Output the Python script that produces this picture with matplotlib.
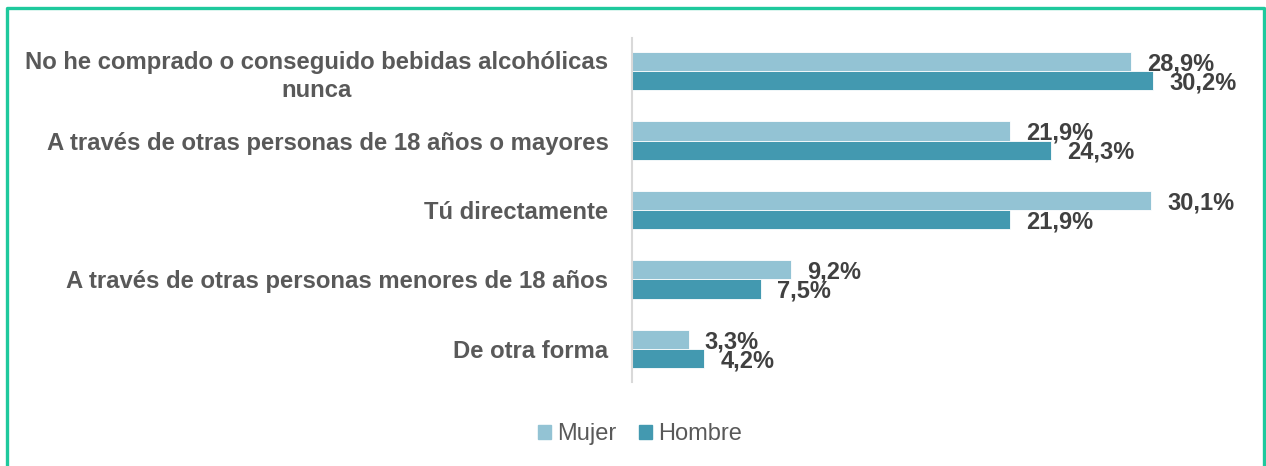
#!/usr/bin/env python3

"""."""
import matplotlib
matplotlib.use('Agg')
from matplotlib import pyplot as plt
from matplotlib.patches import Patch
import numpy as np


CATEGORIAS = [
    'No he comprado o conseguido bebidas alcohólicas\nnunca',
    'A través de otras personas de 18 años o mayores',
    'Tú directamente',
    'A través de otras personas menores de 18 años',
    'De otra forma',
]
MUJER = [28.9, 21.9, 30.1, 9.2, 3.3]
HOMBRE = [30.2, 24.3, 21.9, 7.5, 4.2]
SERIES = ['Mujer', 'Hombre']

COLOR_MUJER = '#93c3d4'
COLOR_HOMBRE = '#4399b0'
GRIS = '#595959'
GRIS_OSCURO = '#404040'

plt.rcParams['font.family'] = ['Liberation Sans', 'DejaVu Sans']


def etiqueta(valor):
    """."""
    return '{:.1f}%'.format(valor).replace('.', ',')


def main():
    """."""
    fig = plt.figure(figsize=(12.66, 4.66), dpi=100)
    ax = fig.add_axes([632 / 1266, 84 / 466, 604 / 1266, 344 / 466])

    y = np.arange(len(CATEGORIAS))
    alto = 0.275
    b1 = ax.barh(y - alto / 2, MUJER, height=alto, color=COLOR_MUJER,
                 edgecolor='white', linewidth=0.6)
    b2 = ax.barh(y + alto / 2, HOMBRE, height=alto, color=COLOR_HOMBRE,
                 edgecolor='white', linewidth=0.6)

    for barras, valores in ((b1, MUJER), (b2, HOMBRE)):
        for barra, val in zip(barras, valores):
            ax.annotate(etiqueta(val),
                        (barra.get_width(), barra.get_y() + barra.get_height() / 2),
                        xytext=(11.5, -1.5), textcoords='offset points',
                        ha='left', va='center', fontsize=17,
                        fontweight='bold', color=GRIS_OSCURO)

    ax.set_xlim(0, 35)
    ax.set_ylim(len(CATEGORIAS) - 0.525, -0.475)
    ax.set_xticks([])
    ax.set_yticks(y)
    ax.set_yticklabels(CATEGORIAS, fontsize=17.2, fontweight='bold',
                       color=GRIS, linespacing=1.3)
    for lbl in ax.get_yticklabels():
        lbl.set_multialignment('center')
    ax.tick_params(axis='y', length=0, pad=17)
    for lado in ('top', 'right', 'bottom'):
        ax.spines[lado].set_visible(False)
    ax.spines['left'].set_color('#d9d9d9')
    ax.spines['left'].set_linewidth(1.5)

    handles = [Patch(color=COLOR_MUJER), Patch(color=COLOR_HOMBRE)]
    fig.legend(handles, SERIES, loc='center', ncol=2, frameon=False,
               bbox_to_anchor=(640 / 1266, 1 - 434 / 466),
               fontsize=17, labelcolor=GRIS, handlelength=0.55,
               handleheight=0.55, handletextpad=0.25, columnspacing=1.0)

    # marco verde del recuadro
    fig.add_artist(plt.Line2D([7 / 1266, 7 / 1266, 1264 / 1266, 1264 / 1266],
                              [-0.1, 1 - 8 / 466, 1 - 8 / 466, -0.1],
                              transform=fig.transFigure, color='#1fc99d',
                              linewidth=2.4, clip_on=False))

    fig.savefig('out.png', dpi=100, facecolor='white')


main()
